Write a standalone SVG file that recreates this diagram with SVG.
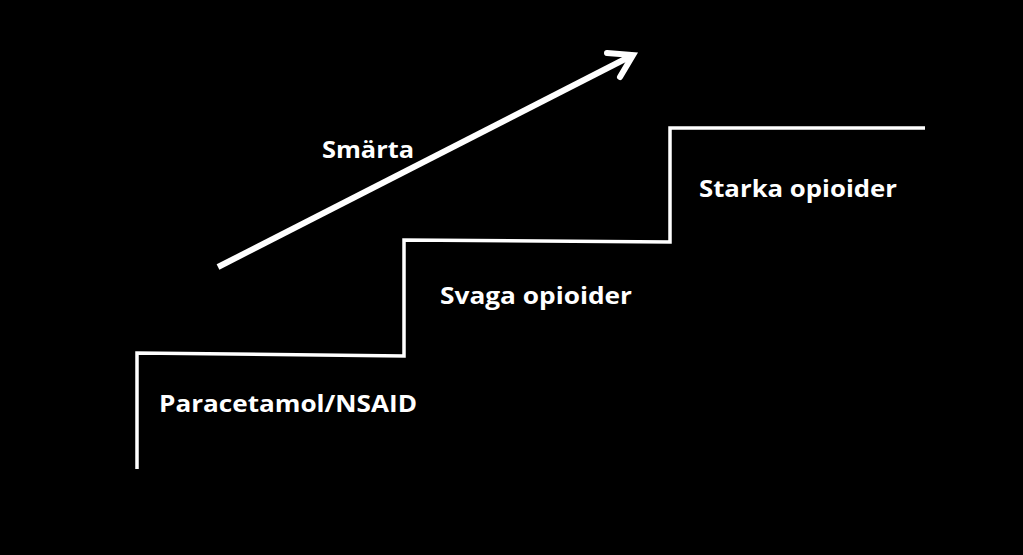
<svg xmlns="http://www.w3.org/2000/svg" width="1023" height="555" viewBox="0 0 1023 555">
<style>
.lbl{font-family:"Open Sans","Liberation Sans",sans-serif;font-weight:bold;font-size:24px;fill:#fff}
.ln{fill:none;stroke:#fff;stroke-linejoin:miter}
</style>
<rect width="1023" height="555" fill="#000"/>
<g id="connectors">
<polyline class="ln" stroke-width="3.5" points="137,469 137,353 404,356 404,240 670,242 670,128 925,128"/>
<g id="arrow">
<line class="ln" stroke-width="6" x1="218" y1="267" x2="631" y2="56"/>
<polyline class="ln" stroke-width="6" stroke-linecap="round" points="607,53 633,55 620,77"/>
</g>
</g>
<g id="smarta"><text class="lbl" x="322" y="158" textLength="92" lengthAdjust="spacingAndGlyphs">Smärta</text></g>
<g id="step1"><text class="lbl" x="159" y="412" textLength="258" lengthAdjust="spacingAndGlyphs">Paracetamol/NSAID</text></g>
<g id="step2"><text class="lbl" x="440" y="304" textLength="192" lengthAdjust="spacingAndGlyphs">Svaga opioider</text></g>
<g id="step3"><text class="lbl" x="699" y="197" textLength="198" lengthAdjust="spacingAndGlyphs">Starka opioider</text></g>
</svg>
